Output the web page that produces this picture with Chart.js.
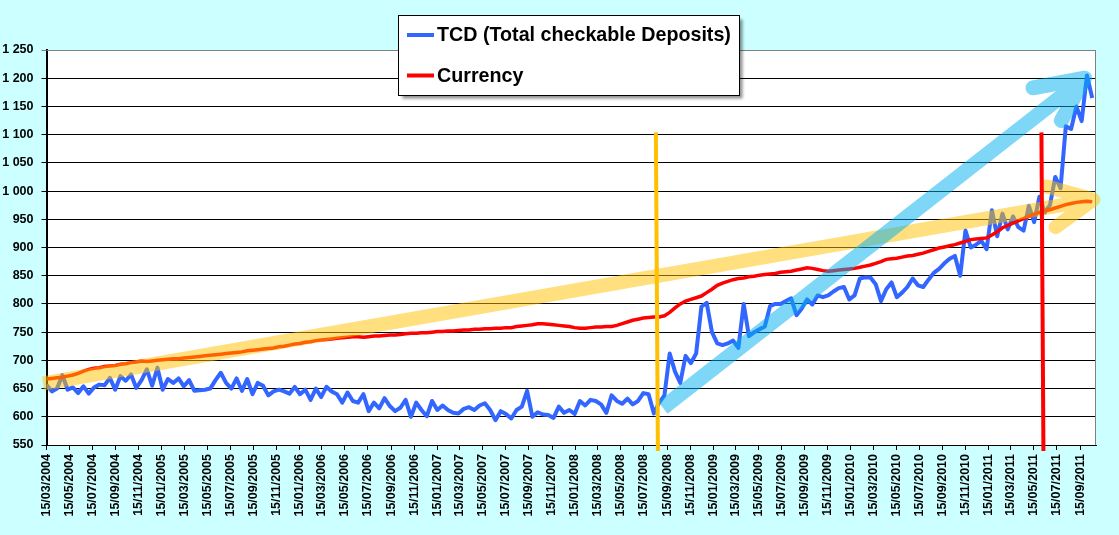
<!DOCTYPE html>
<html>
<head>
<meta charset="utf-8">
<script src="https://cdn.jsdelivr.net/npm/chart.js@4.4.0/dist/chart.umd.min.js"></script>
<style>
  html, body { margin: 0; padding: 0; background: #CCFFFF; }
  #wrap { width: 1119px; height: 535px; position: relative; }
</style>
</head>
<body>
<div id="wrap"><canvas id="myChart"></canvas></div>
<script>
// weekly data sampled every 2 weeks, starting 15/03/2004
var startDate = Date.UTC(2004, 2, 15);
var stepDays = 14;

var tcd = [
  657, 645, 650, 674, 648, 652, 642, 654, 641, 652,
  657, 656, 669, 648, 672, 664, 675, 651, 665, 684,
  655, 687, 648, 667, 660, 668, 654, 665, 646, 647,
  648, 650, 665, 678, 660, 650, 668, 646, 667, 640,
  660, 655, 638, 645, 648, 645, 641, 653, 640, 648,
  630, 650, 635, 653, 645, 640, 625, 643, 628, 625,
  640, 610, 625, 615, 633, 619, 610, 616, 630, 600,
  625, 612, 601, 628, 612, 620, 612, 607, 606, 614,
  617, 612, 620, 624, 612, 594, 610, 605, 597, 612,
  618, 646, 600, 608, 604, 603, 598, 618, 607, 612,
  605, 628, 620, 630, 628, 622, 607, 638, 628, 623,
  632, 622, 628, 642, 640, 606, 625, 638, 712, 680,
  660, 708, 695, 712, 795, 802, 750, 730, 727, 730,
  735, 722, 800, 743, 750, 755, 760, 796, 800, 800,
  805, 810, 780, 792, 808, 799, 815, 812, 815, 822,
  828, 830, 808, 815, 845, 847, 847, 835, 805, 826,
  838, 812, 820, 830, 845, 833, 830, 843, 855, 862,
  872, 880, 885, 850, 930, 900, 905, 912, 897, 966,
  920, 960, 932, 955, 936, 930, 974, 945, 990, 962,
  975, 1025, 1005, 1115, 1110, 1150, 1124, 1205, 1165
];

var currency = [
  667, 668, 669, 670, 672, 674, 677, 681, 684, 686,
  687, 689, 690, 691, 693, 694, 696, 697, 699, 698,
  699, 700, 701, 702, 703, 703, 704, 705, 706, 707,
  708, 709, 710, 711, 712, 713, 714, 715, 717, 718,
  719, 720, 721, 722, 724, 725, 727, 729, 730, 732,
  733, 735, 736, 737, 738, 739, 740, 741, 742, 742,
  741, 742, 743, 743, 744, 745, 745, 746, 747, 748,
  748, 749, 749, 750, 751, 751, 752, 752, 753, 754,
  754, 755, 755, 756, 756, 757, 757, 758, 758, 760,
  761, 762, 763, 765, 765, 764, 763, 762, 761, 760,
  758, 757, 757, 758, 759, 759, 760, 760, 762, 765,
  768, 771, 773, 775, 776, 777, 777, 779, 785, 793,
  800, 805, 808, 811, 814, 820, 826, 833, 837, 840,
  843, 845, 846, 848, 849, 851, 852, 853, 854, 856,
  857, 858, 860, 862, 864, 863, 861, 859, 858, 859,
  860, 861, 862, 863, 865, 867, 869, 872, 875, 879,
  880, 881, 883, 885, 886, 888, 890, 893, 896, 899,
  901, 903, 905, 908, 911, 914, 915, 916, 917, 922,
  928, 935, 939, 943, 947, 951, 955, 959, 962, 965,
  967, 970, 973, 976, 978, 980, 981, 982, 981
];

var seriesNames = ['TCD (Total checkable Deposits)', 'Currency'];
var seriesColors = ['#3366FF', '#FF0000'];

// x tick labels: 15th of every other month
var xTickLabels = [];
for (var yy = 2004; yy <= 2011; yy++) {
  for (var mm = 1; mm <= 11; mm += 2) {
    if (yy == 2004 && mm < 3) continue;
    if (yy == 2011 && mm > 9) continue;
    xTickLabels.push('15/' + (mm < 10 ? '0' + mm : mm) + '/' + yy);
  }
}

function dayOf(label) {
  var p = label.split('/');
  return (Date.UTC(+p[2], +p[1] - 1, +p[0]) - startDate) / 86400000;
}

var xTickDays = xTickLabels.map(dayOf);
var dayToLabel = {};
xTickLabels.forEach(function (l, i) { dayToLabel[xTickDays[i]] = l; });

function points(arr) {
  return arr.map(function (v, i) { return { x: i * stepDays, y: v }; });
}

// annotations (in data units)
var crisisLine = { day: dayOf('19/08/2008'), top: 1104 };
var qeLine = { day: dayOf('07/06/2011'), top: 1104 };
var currencyArrow = { from: [-9, 659], to: [2775, 985], barbs: [[2652, 1008], [2675, 936]], width: 14 };
var tcdArrow = { from: [1634, 616], to: [2752, 1200], barbs: [[2615, 1183], [2690, 1125]], width: 15 };

var bgPlugin = {
  id: 'bg',
  beforeDraw: function (chart) {
    var a = chart.chartArea, c = chart.ctx;
    c.save();
    c.fillStyle = '#FFFFFF';
    c.fillRect(a.left, a.top, a.right - a.left, a.bottom - a.top);
    c.restore();
  },
  afterDatasetsDraw: function (chart) {
    var a = chart.chartArea, c = chart.ctx;
    c.save();
    c.strokeStyle = '#808080';
    c.lineWidth = 1;
    c.beginPath();
    c.moveTo(a.left, a.top + 0.5);
    c.lineTo(a.right - 0.5, a.top + 0.5);
    c.lineTo(a.right - 0.5, a.bottom);
    c.stroke();
    c.restore();
  }
};

function drawArrow(chart, arr, color, alpha) {
  var xs = chart.scales.x, ys = chart.scales.y;
  var off = document.createElement('canvas');
  off.width = chart.width; off.height = chart.height;
  var o = off.getContext('2d');
  o.strokeStyle = color;
  o.lineWidth = arr.width;
  o.lineJoin = 'round';
  var tx = xs.getPixelForValue(arr.to[0]), ty = ys.getPixelForValue(arr.to[1]);
  o.lineCap = 'butt';
  o.beginPath();
  o.moveTo(xs.getPixelForValue(arr.from[0]), ys.getPixelForValue(arr.from[1]));
  o.lineTo(tx, ty);
  o.stroke();
  o.lineCap = 'round';
  o.beginPath();
  o.moveTo(xs.getPixelForValue(arr.barbs[0][0]), ys.getPixelForValue(arr.barbs[0][1]));
  o.lineTo(tx, ty);
  o.lineTo(xs.getPixelForValue(arr.barbs[1][0]), ys.getPixelForValue(arr.barbs[1][1]));
  o.stroke();
  var c = chart.ctx;
  c.save();
  c.globalAlpha = alpha;
  c.drawImage(off, 0, 0);
  c.restore();
}

function drawVLine(chart, line, color) {
  var xs = chart.scales.x, ys = chart.scales.y, c = chart.ctx;
  var x = xs.getPixelForValue(line.day);
  c.save();
  c.strokeStyle = color;
  c.lineWidth = 4;
  c.beginPath();
  c.moveTo(x - 1, ys.getPixelForValue(line.top));
  c.lineTo(x + 1, chart.chartArea.bottom + 6);
  c.stroke();
  c.restore();
}

var annotPlugin = {
  id: 'annot',
  afterDraw: function (chart) {
    drawArrow(chart, currencyArrow, '#FFC000', 0.5);
    drawArrow(chart, tcdArrow, '#00B0F0', 0.5);
    drawVLine(chart, crisisLine, '#FFC000');
    drawVLine(chart, qeLine, '#FF0000');

    // legend box
    var c = chart.ctx;
    var bx = 398.5, by = 15.5, bw = 341, bh = 80;
    c.save();
    c.shadowColor = 'rgba(0,0,0,0.45)';
    c.shadowOffsetX = 3;
    c.shadowOffsetY = 3;
    c.shadowBlur = 3;
    c.fillStyle = '#FFFFFF';
    c.fillRect(bx, by, bw, bh);
    c.restore();
    c.save();
    c.strokeStyle = '#000';
    c.lineWidth = 1;
    c.strokeRect(bx, by, bw, bh);
    c.font = 'bold 19.7px "Liberation Sans", Arial, sans-serif';
    c.textBaseline = 'middle';
    var rows = [35, 75.5];
    for (var i = 0; i < 2; i++) {
      c.strokeStyle = seriesColors[i];
      c.lineWidth = 4;
      c.beginPath();
      c.moveTo(407, rows[i]);
      c.lineTo(434, rows[i]);
      c.stroke();
      c.fillStyle = '#000';
      c.fillText(seriesNames[i], 437, rows[i] + 1);
    }
    c.restore();
  }
};

var ctx = document.getElementById('myChart').getContext('2d');
var chart = new Chart(ctx, {
  type: 'line',
  data: {
    datasets: [{
      label: seriesNames[1],
      data: points(currency),
      borderColor: seriesColors[1],
      borderWidth: 3.5,
      pointRadius: 0,
      tension: 0
    }, {
      label: seriesNames[0],
      data: points(tcd),
      borderColor: seriesColors[0],
      borderWidth: 4,
      pointRadius: 0,
      tension: 0,
      borderJoinStyle: 'round'
    }]
  },
  options: {
    responsive: true,
    maintainAspectRatio: false,
    animation: false,
    devicePixelRatio: 1,
    layout: { padding: { top: 50, right: 23, left: 0, bottom: 0 } },
    plugins: { legend: { display: false }, tooltip: { enabled: false } },
    scales: {
      x: {
        type: 'linear',
        min: 0,
        max: 2782,
        afterBuildTicks: function (scale) {
          scale.ticks = xTickDays.map(function (d) { return { value: d }; });
        },
        afterFit: function (scale) { scale.height = 90; },
        ticks: {
          autoSkip: false,
          minRotation: 90,
          maxRotation: 90,
          padding: 4,
          color: '#000',
          font: { family: '"Liberation Sans", Arial, sans-serif', size: 12.5, weight: 'bold' },
          callback: function (v) { return dayToLabel[v] || ''; }
        },
        grid: { drawOnChartArea: false, drawTicks: true, tickLength: 5, color: '#000' },
        border: { color: '#000', width: 1 }
      },
      y: {
        min: 550,
        max: 1250,
        afterFit: function (scale) { scale.width = 46.5; },
        ticks: {
          stepSize: 50,
          padding: 8,
          color: '#000',
          font: { family: '"Liberation Sans", Arial, sans-serif', size: 12.5, weight: 'bold' },
          callback: function (v) {
            var s = String(v);
            return s.length > 3 ? s.slice(0, s.length - 3) + ' ' + s.slice(-3) : s;
          }
        },
        grid: {
          tickLength: 5,
          color: function (c) { return c.tick && c.tick.value == 1250 ? '#808080' : '#000'; }
        },
        border: { color: '#000', width: 2 }
      }
    }
  },
  plugins: [bgPlugin, annotPlugin]
});
</script>
</body>
</html>
